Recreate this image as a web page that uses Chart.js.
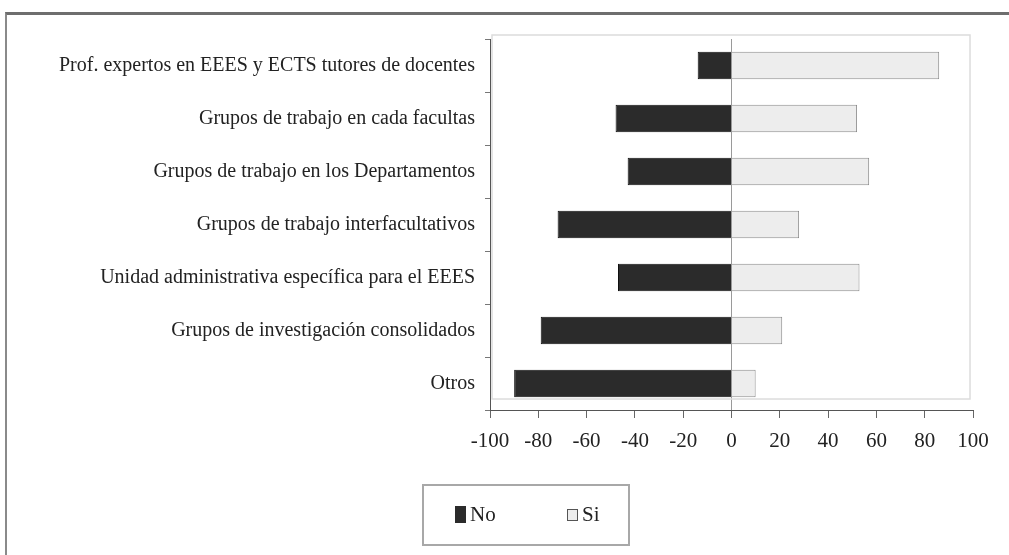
<!DOCTYPE html>
<html>
<head>
<meta charset="utf-8">
<script src="https://cdn.jsdelivr.net/npm/chart.js@4.4.1/dist/chart.umd.min.js"></script>
<style>
html, body { margin: 0; padding: 0; background: #fff; overflow: hidden; }
#wrap { position: relative; width: 1009px; height: 555px; }
#frame { position: absolute; left: 5px; top: 12px; width: 1100px; height: 600px;
         border-top: 3px solid #6e6e6e; border-left: 2px solid #8a8a8a; }
canvas { position: absolute; left: 0; top: 0; }
</style>
</head>
<body>
<div id="wrap">
  <div id="frame"></div>
  <canvas id="chart" width="1009" height="555" style="width:1009px;height:555px"></canvas>
</div>
<script>
const categories = [
    "Prof. expertos en EEES y ECTS tutores de docentes",
    "Grupos de trabajo en cada facultas",
    "Grupos de trabajo en los Departamentos",
    "Grupos de trabajo interfacultativos",
    "Unidad administrativa específica para el EEES",
    "Grupos de investigación consolidados",
    "Otros"
];
const noValues = [-14, -48, -43, -72, -47, -79, -90];
const siValues = [86, 52, 57, 28, 53, 21, 10];
const xTicks = [-100, -80, -60, -40, -20, 0, 20, 40, 60, 80, 100];

const serif = "'Liberation Serif', 'DejaVu Serif', serif";

// light 3D-ish walls behind the bars + boxed legend
const decor = {
    id: 'decor',
    beforeDatasetsDraw(chart) {
        const { ctx, chartArea: a } = chart;
        ctx.save();
        ctx.strokeStyle = '#dcdcdc';
        ctx.lineWidth = 1.5;
        ctx.strokeRect(a.left + 2, a.top - 4, a.right - a.left - 5, a.bottom - a.top - 7);
        ctx.restore();
    },
    afterDraw(chart) {
        const ctx = chart.ctx;
        ctx.save();
        ctx.strokeStyle = '#a8a8a8';
        ctx.lineWidth = 2;
        ctx.strokeRect(423, 485, 206, 60);
        ctx.font = "21px " + serif;
        ctx.textBaseline = 'middle';
        let x = 455;
        chart.data.datasets.forEach(ds => {
            ctx.fillStyle = ds.backgroundColor;
            ctx.strokeStyle = '#555';
            ctx.lineWidth = 1;
            if (ds.backgroundColor === '#2b2b2b') {
                ctx.fillRect(x, 506, 11, 17);
            } else {
                ctx.fillRect(x + 0.5, 509.5, 10, 11);
                ctx.strokeRect(x + 0.5, 509.5, 10, 11);
            }
            ctx.fillStyle = '#222';
            ctx.fillText(ds.label, x + 15, 515);
            x += 112;
        });
        ctx.restore();
    }
};

new Chart(document.getElementById('chart'), {
    type: 'bar',
    data: {
        labels: categories,
        datasets: [
            {
                label: 'No',
                data: noValues,
                backgroundColor: '#2b2b2b',
                borderColor: '#111',
                borderWidth: 1,
                barPercentage: 0.52,
                categoryPercentage: 1
            },
            {
                label: 'Si',
                data: siValues,
                backgroundColor: '#ededed',
                borderColor: '#8c8c8c',
                borderWidth: 1,
                barPercentage: 0.52,
                categoryPercentage: 1
            }
        ]
    },
    options: {
        indexAxis: 'y',
        responsive: false,
        animation: false,
        devicePixelRatio: 1,
        layout: { padding: { top: 39, bottom: 100, left: 20, right: 36 } },
        plugins: {
            legend: { display: false },
            tooltip: { enabled: false }
        },
        scales: {
            x: {
                stacked: true,
                min: -100,
                max: 100,
                afterBuildTicks: axis => { axis.ticks = xTicks.map(v => ({ value: v })); },
                afterFit: axis => { axis.height = 45; },
                grid: {
                    color: c => (c.tick && c.tick.value === 0) ? '#9a9a9a' : 'rgba(0,0,0,0)',
                    tickColor: '#666',
                    tickLength: 8
                },
                border: { display: true, color: '#555', width: 1 },
                ticks: {
                    padding: 11,
                    color: '#222',
                    font: { family: serif, size: 21 }
                }
            },
            y: {
                stacked: true,
                afterFit: axis => { axis.width = 470; },
                grid: {
                    offset: true,
                    drawOnChartArea: false,
                    tickColor: '#777',
                    tickLength: 5
                },
                border: { display: true, color: '#555', width: 1 },
                ticks: {
                    padding: 10,
                    color: '#222',
                    font: { family: serif, size: 20 }
                }
            }
        }
    },
    plugins: [decor]
});
</script>
</body>
</html>
